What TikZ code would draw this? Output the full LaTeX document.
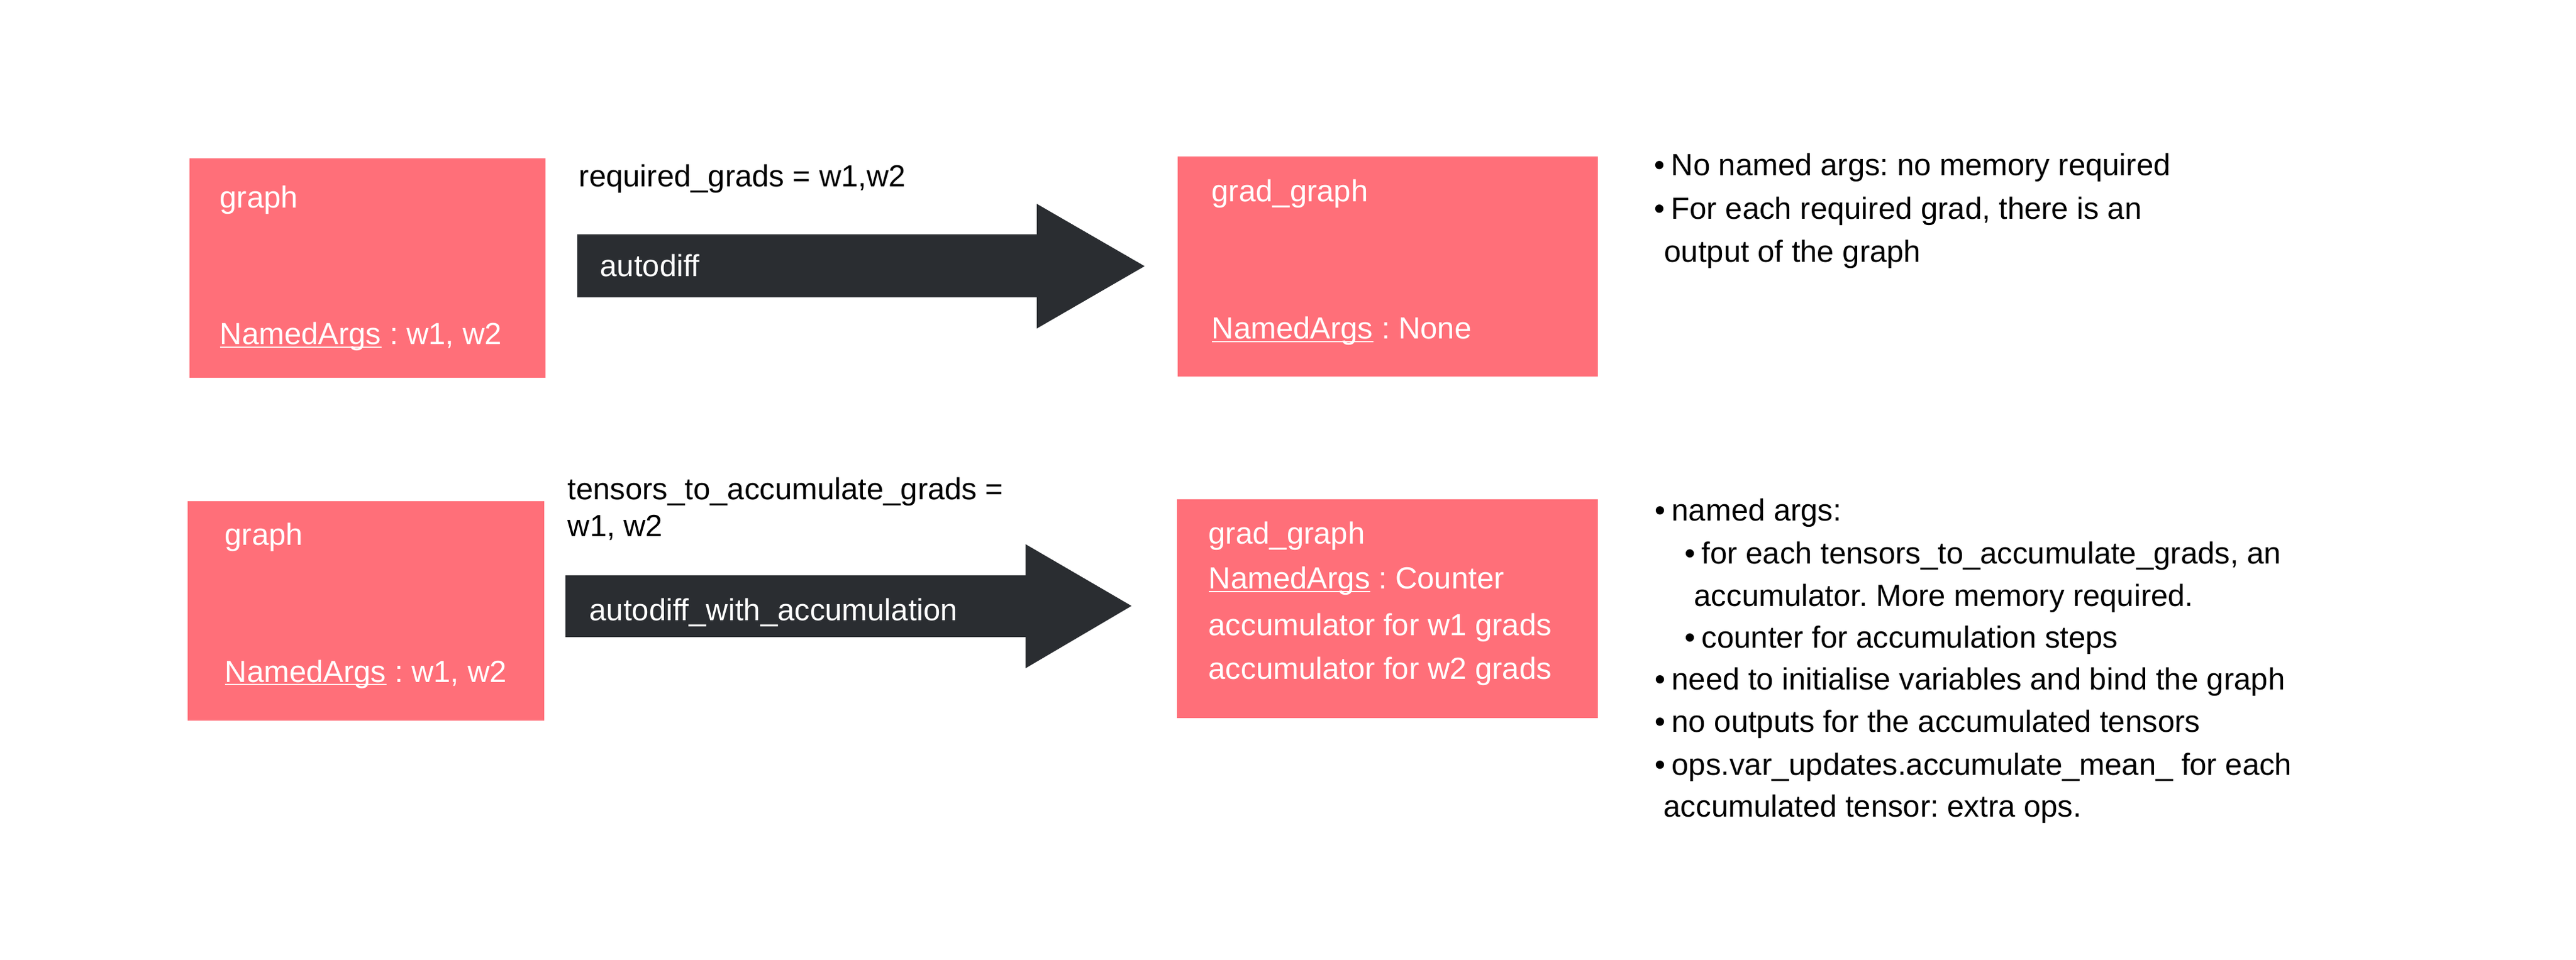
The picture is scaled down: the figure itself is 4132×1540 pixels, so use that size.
\documentclass[tikz,border=0pt]{standalone}
\usepackage{fontspec}
\setmainfont{Liberation Sans}
\definecolor{boxpink}{HTML}{FF6F79}
\definecolor{arrowdark}{HTML}{2A2D31}
\newcommand\myul[1]{\setbox0=\hbox{#1}\rlap{\rule[-0.11em]{\wd0}{0.045em}}\box0\relax}
\newcommand\mybul{\llap{•\kern0.2em}}
\frenchspacing
\begin{document}
\begin{tikzpicture}[x=0.01cm,y=-0.01cm,
  box/.style={fill=boxpink, draw=none, inner sep=0pt, anchor=north west},
  txt/.style={anchor=base west, inner sep=0pt, font=\fontsize{13.94pt}{16pt}\selectfont\frenchspacing},
  wtxt/.style={txt, text=white},
  btxt/.style={txt, text=black},
  blockarrow/.style={fill=arrowdark, draw=none}]
\useasboundingbox (0,0) rectangle (4132,1540);
\fill[white] (0,0) rectangle (4132,1540);

% boxes
\node[box, minimum width=5.71cm, minimum height=3.52cm] (g1) at (303,253) {};
\node[box, minimum width=6.74cm, minimum height=3.53cm] (gg1) at (1888,250) {};
\node[box, minimum width=5.72cm, minimum height=3.52cm] (g2) at (300,803) {};
\node[box, minimum width=6.75cm, minimum height=3.51cm] (gg2) at (1887,800) {};

% block arrows
\coordinate (a1s) at (926,427);
\coordinate (a1t) at (1836,427);
\fill[blockarrow] (a1s) ++(0,-51) -- ++(737,0) -- ++(0,-49) -- (a1t) -- ++(-173,100) -- ++(0,-50) -- ++(-737,0) -- cycle;
\coordinate (a2s) at (907,972);
\coordinate (a2t) at (1815,972);
\fill[blockarrow] (a2s) ++(0,-49) -- ++(738,0) -- ++(0,-50) -- (a2t) -- ++(-170,100) -- ++(0,-50) -- ++(-738,0) -- cycle;

% top row texts
\node[wtxt] (t1) at (352,334) {graph};
\node[wtxt] (t2) at (352,553) {\myul{NamedArgs} : w1, w2};
\node[btxt] (t3) at (928,300) {required\_grads = w1,w2};
\node[wtxt] (t4) at (962,444) {autodiff};
\node[wtxt] (t5) at (1943,324) {grad\_graph};
\node[wtxt] (t6) at (1943,544) {\myul{NamedArgs} : None};
\node[btxt] (t7) at (2680,282) {\mybul No named args: no memory required};
\node[btxt] (t8) at (2680,352) {\mybul For each required grad, there is an};
\node[btxt] (t9) at (2669,421) {output of the graph};

% bottom row texts
\node[wtxt] (b1) at (360,875) {graph};
\node[wtxt] (b2) at (360,1094) {\myul{NamedArgs} : w1, w2};
\node[btxt] (b3) at (910,802) {tensors\_to\_accumulate\_grads =};
\node[btxt] (b4) at (910,860) {w1, w2};
\node[wtxt] (b5) at (945,995) {autodiff\_with\_accumulation};
\node[wtxt] (b6) at (1938,873) {grad\_graph};
\node[wtxt] (b7) at (1938,945) {\myul{NamedArgs} : Counter};
\node[wtxt] (b8) at (1938,1019) {accumulator for w1 grads};
\node[wtxt] (b9) at (1938,1090) {accumulator for w2 grads};

\node[btxt] (c1) at (2681,836) {\mybul named args:};
\node[btxt] (c2) at (2729,905) {\mybul for each tensors\_to\_accumulate\_grads, an};
\node[btxt] (c3) at (2717,972) {accumulator. More memory required.};
\node[btxt] (c4) at (2729,1040) {\mybul counter for accumulation steps};
\node[btxt] (c5) at (2681,1106) {\mybul need to initialise variables and bind the graph};
\node[btxt] (c6) at (2681,1174) {\mybul no outputs for the accumulated tensors};
\node[btxt] (c7) at (2681,1243) {\mybul ops.var\_updates.accumulate\_mean\_ for each};
\node[btxt] (c8) at (2668,1310) {accumulated tensor: extra ops.};
\end{tikzpicture}
\end{document}
